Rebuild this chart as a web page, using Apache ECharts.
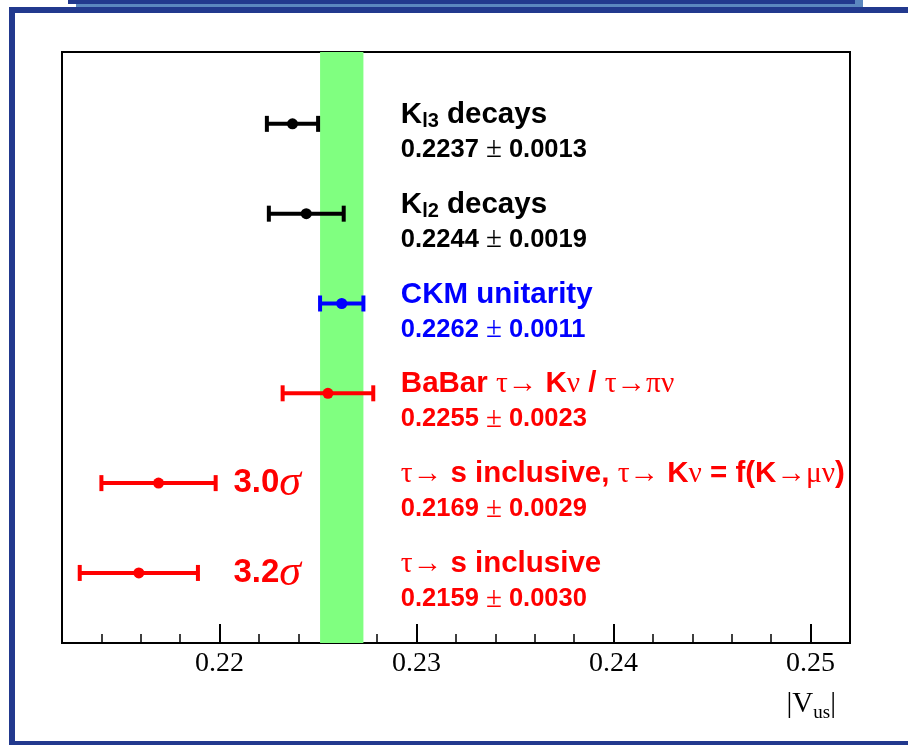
<!DOCTYPE html>
<html><head><meta charset="utf-8">
<script src="https://cdn.jsdelivr.net/npm/echarts@6/dist/echarts.min.js"></script>
<style>html,body{margin:0;padding:0;background:#fff}#c{width:908px;height:745px}</style>
</head><body><div id="c"></div>
<script>
// ---- data (top row first) ----
const labels = ['K_{l3} decays', 'K_{l2} decays', 'CKM unitarity', 'BaBar τ→ Kν / τ→πν', 'τ→ s inclusive, τ→ Kν = f(K→μν)', 'τ→ s inclusive'];
const values = [0.2237, 0.2244, 0.2262, 0.2255, 0.2169, 0.2159];
const errors = [0.0013, 0.0019, 0.0011, 0.0023, 0.0029, 0.0030];
const tensions = ['', '', '', '', '3.0σ', '3.2σ'];
const majorTicks = [0.22, 0.23, 0.24, 0.25];
const minorTicks = [0.214, 0.216, 0.218, 0.222, 0.224, 0.226, 0.228, 0.232, 0.234, 0.236, 0.238, 0.242, 0.244, 0.246, 0.248];
const axisTitle = '|V_{us}|';
const bandRow = 2; // CKM unitarity gives the green band

// ---- styles ----
const rowColors = ['#000000', '#000000', '#0000ff', '#ff0000', '#ff0000', '#ff0000'];
const SANS = '"Liberation Sans", Arial, Helvetica, sans-serif';
const SERIF = '"Liberation Serif", "Times New Roman", "DejaVu Serif", serif';
const X_MIN = 0.212, X_MAX = 0.252;
const TEXT_X = 0.2292;   // left edge of the descriptive text (data units)
const SIGMA_X = 0.2207;  // left edge of the tension labels (data units)

const SYM = /[τνπμσ→±]/;
function toRich(str, main, sym, sub) {
  let out = '', buf = '', mode = null, i = 0;
  const flush = () => { if (buf) { out += '{' + mode + '|' + buf + '}'; buf = ''; } };
  while (i < str.length) {
    if (str[i] === '_' && str[i + 1] === '{') {
      flush();
      const j = str.indexOf('}', i);
      mode = sub; buf = str.slice(i + 2, j); flush(); mode = null;
      i = j + 1; continue;
    }
    const ch = str[i];
    const m = SYM.test(ch) ? sym : main;
    if (m !== mode) { flush(); mode = m; }
    buf += ch; i++;
  }
  flush();
  return out;
}

const titleRich = {
  t: { fontFamily: SANS, fontWeight: 'bold', fontSize: 29.5, lineHeight: 34 },
  g: { fontFamily: SERIF, fontWeight: 'normal', fontSize: 29.5, lineHeight: 34 },
  s: { fontFamily: SANS, fontWeight: 'bold', fontSize: 20, lineHeight: 12, verticalAlign: 'bottom' }
};
const valueRich = {
  t: { fontFamily: SANS, fontWeight: 'bold', fontSize: 25.5, lineHeight: 30 },
  g: { fontFamily: SERIF, fontWeight: 'normal', fontSize: 29, lineHeight: 30 },
  s: { fontFamily: SANS, fontWeight: 'bold', fontSize: 16, lineHeight: 12 }
};
const sigmaRich = {
  t: { fontFamily: SANS, fontWeight: 'bold', fontSize: 33, lineHeight: 42 },
  g: { fontFamily: SERIF, fontStyle: 'italic', fontWeight: 'normal', fontSize: 44, lineHeight: 42 },
  s: { fontFamily: SANS, fontSize: 16 }
};

const n = values.length;
const chart = echarts.init(document.getElementById('c'), null, { renderer: 'canvas' });

const dark = '#22398e', light = '#5b87bf';

chart.setOption({
  animation: false,
  backgroundColor: '#ffffff',
  graphic: [
    { type: 'rect', left: 76, top: 0, shape: { width: 787, height: 7 }, style: { fill: light } },
    { type: 'rect', left: 68, top: 0, shape: { width: 787, height: 4 }, style: { fill: dark } },
    { type: 'rect', left: 9, top: 7, shape: { width: 899, height: 6 }, style: { fill: dark } },
    { type: 'rect', left: 9, top: 7, shape: { width: 6, height: 738 }, style: { fill: dark } },
    { type: 'rect', left: 9, top: 741, shape: { width: 899, height: 4 }, style: { fill: dark } }
  ],
  grid: { left: 62, right: 58, top: 52, bottom: 102, show: true, borderColor: '#000', borderWidth: 2, backgroundColor: 'transparent' },
  xAxis: [
    {
      type: 'value', min: X_MIN, max: X_MAX, position: 'bottom',
      splitLine: { show: false },
      axisLine: { show: true, lineStyle: { color: '#000', width: 2 } },
      axisTick: { show: true, inside: true, length: 19, customValues: majorTicks, lineStyle: { color: '#000', width: 2 } },
      axisLabel: {
        show: true, customValues: majorTicks, margin: 7, color: '#000',
        fontFamily: SERIF, fontSize: 28,
        formatter: v => String(+v.toFixed(4))
      },
      name: toRich(axisTitle, 'n', 'n', 'u'),
      nameLocation: 'end', nameGap: -14,
      nameTextStyle: {
        align: 'right', verticalAlign: 'top', padding: [42, 0, 0, 0], color: '#000',
        rich: {
          n: { fontFamily: SERIF, fontSize: 29, lineHeight: 38, color: '#000' },
          u: { fontFamily: SERIF, fontSize: 19, lineHeight: 7, verticalAlign: 'bottom', color: '#000' }
        }
      }
    },
    {
      type: 'value', min: X_MIN, max: X_MAX, position: 'bottom',
      splitLine: { show: false },
      axisLine: { show: false },
      axisLabel: { show: false },
      axisTick: { show: true, inside: true, length: 9, customValues: minorTicks, lineStyle: { color: '#000', width: 1.5 } }
    }
  ],
  yAxis: { type: 'value', min: 0.22, max: 6.8, show: false },
  series: [{
    type: 'custom',
    xAxisIndex: 0, yAxisIndex: 0,
    clip: false,
    data: values.map((v, i) => [v, errors[i], n - i, i]),
    encode: { x: 0, y: 2 },
    markArea: {
      silent: true,
      itemStyle: { color: '#80ff80' },
      data: [[{ xAxis: values[bandRow] - errors[bandRow] }, { xAxis: values[bandRow] + errors[bandRow] }]]
    },
    renderItem: (params, api) => {
      const v = api.value(0), e = api.value(1), r = api.value(2), i = api.value(3);
      const c = rowColors[i];
      const p = api.coord([v, r]);
      const lo = api.coord([v - e, r]);
      const hi = api.coord([v + e, r]);
      const tx = api.coord([TEXT_X, r])[0];
      const y = p[1];
      const lw = 4, ch = 8;
      const children = [
        { type: 'line', shape: { x1: lo[0], y1: y, x2: hi[0], y2: y }, style: { stroke: c, lineWidth: lw } },
        { type: 'line', shape: { x1: lo[0], y1: y - ch, x2: lo[0], y2: y + ch }, style: { stroke: c, lineWidth: lw } },
        { type: 'line', shape: { x1: hi[0], y1: y - ch, x2: hi[0], y2: y + ch }, style: { stroke: c, lineWidth: lw } },
        { type: 'circle', shape: { cx: p[0], cy: y, r: 5.5 }, style: { fill: c } },
        { type: 'text', x: tx, y: y - 9, style: { text: toRich(labels[i], 't', 'g', 's'), rich: titleRich, fill: c, align: 'left', verticalAlign: 'middle' } },
        { type: 'text', x: tx, y: y + 26, style: { text: toRich(values[i].toFixed(4) + ' ± ' + errors[i].toFixed(4), 't', 'g', 's'), rich: valueRich, fill: c, align: 'left', verticalAlign: 'middle' } }
      ];
      if (tensions[i]) {
        const sx = api.coord([SIGMA_X, r])[0];
        children.push({ type: 'text', x: sx, y: y, style: { text: toRich(tensions[i], 't', 'g', 's'), rich: sigmaRich, fill: c, align: 'left', verticalAlign: 'middle' } });
      }
      return { type: 'group', children };
    }
  }]
});
</script>
</body></html>
